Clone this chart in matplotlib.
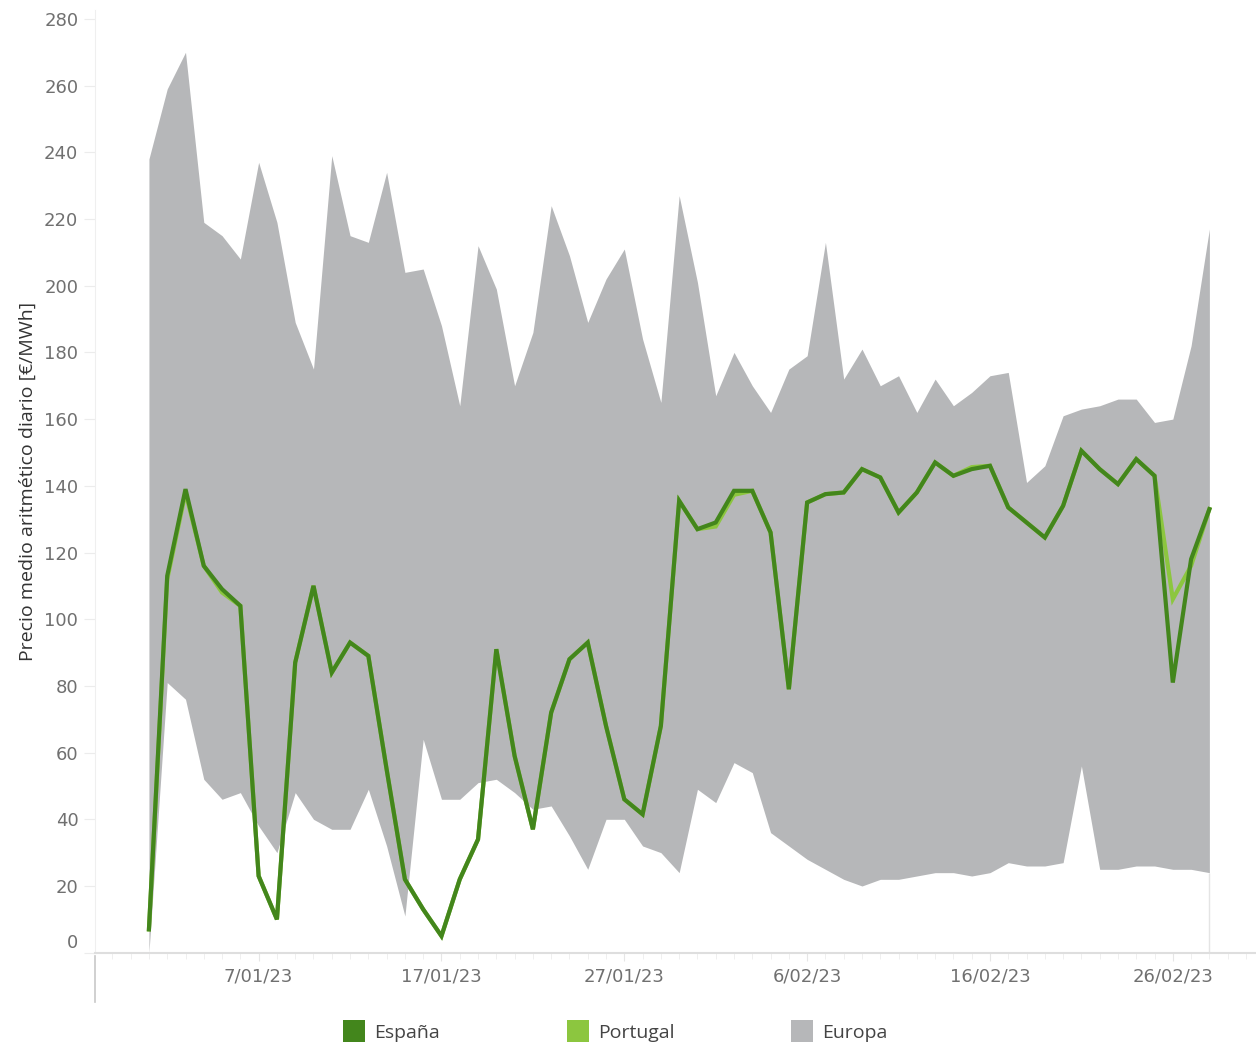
import datetime as dt
import matplotlib
matplotlib.use("Agg")
import matplotlib.pyplot as plt
import matplotlib.dates as mdates
from matplotlib.patches import Rectangle
from matplotlib.transforms import ScaledTranslation

plt.rcParams['font.family'] = ['Open Sans', 'DejaVu Sans']

# daily values, 1/01/23 .. 28/02/23
start = dt.date(2023, 1, 1)
n_days = 59

europa_max = [238, 259, 270, 219, 215, 208, 237, 219, 189, 175,
              239, 215, 213, 234, 204, 205, 188, 164, 212, 199,
              170, 186, 224, 209, 189, 202, 211, 184, 165, 227,
              201, 167, 180, 170, 162, 175, 179, 213, 172, 181,
              170, 173, 162, 172, 164, 168, 173, 174, 141, 146,
              161, 163, 164, 166, 166, 159, 160, 182, 217]
europa_min = [0, 81, 76, 52, 46, 48, 38, 30, 48, 40,
              37, 37, 49, 32, 11, 64, 46, 46, 51, 52,
              48, 43, 44, 35, 25, 40, 40, 32, 30, 24,
              49, 45, 57, 54, 36, 32, 28, 25, 22, 20,
              22, 22, 23, 24, 24, 23, 24, 27, 26, 26,
              27, 56, 25, 25, 26, 26, 25, 25, 24]
espana = [7, 113, 139, 116, 109, 104, 23, 10, 87, 110,
          84, 93, 89, 55, 22, 13, 5, 22, 34, 91,
          59, 37, 72, 88, 93, 68, 46, 41.5, 68, 135.5,
          127, 129, 138.5, 138.5, 126, 79, 135, 137.5, 138, 145,
          142.5, 132, 138, 147, 143, 145, 146, 133.5, 129, 124.5,
          134, 150.5, 145, 140.5, 148, 143, 81, 118, 133]
portugal = [7, 112, 138, 116, 108, 104, 23, 10, 87, 110,
            84, 93, 89, 55, 22, 13, 5, 22, 34, 91,
            59, 37, 72, 88, 93, 68, 46, 41.5, 68, 135.5,
            127, 127.8, 137.3, 138.5, 126, 79, 135, 137.5, 138, 145,
            142.5, 132, 138, 147, 143, 145.6, 146, 133.5, 129, 124.5,
            134, 150.5, 145, 140.5, 148, 143, 106, 116, 133]

tick_dates = [dt.date(2023, 1, 7), dt.date(2023, 1, 17), dt.date(2023, 1, 27),
              dt.date(2023, 2, 6), dt.date(2023, 2, 16), dt.date(2023, 2, 26)]
tick_labels = ["7/01/23", "17/01/23", "27/01/23", "6/02/23", "16/02/23", "26/02/23"]
y_ticks = list(range(0, 281, 20))

legend_labels = ["España", "Portugal", "Europa"]
legend_colors = ["#43861c", "#8cc63f", "#b6b7b9"]

dates = [start + dt.timedelta(days=i) for i in range(n_days)]

fig = plt.figure(figsize=(12.56, 10.42), dpi=100)
ax = fig.add_axes([95 / 1256, 89.3 / 1042, 1161 / 1256, 942.7 / 1042])

ax.fill_between(dates, europa_min, europa_max, color=legend_colors[2], lw=0, zorder=2)
# faint drop lines at the ends of the band
ax.vlines([dates[0], dates[-1]], 0, [europa_min[0], europa_min[-1]],
          color="#e4e4e4", lw=1, zorder=1)
ax.plot(dates, portugal, color=legend_colors[1], lw=3, zorder=3, solid_joinstyle="miter")
ax.plot(dates, espana, color=legend_colors[0], lw=3, zorder=4, solid_joinstyle="miter")

ax.set_xlim(mdates.date2num(start) - 2.95, mdates.date2num(start) + 60.55)
ax.set_ylim(0, 282.67)

tick_font = ['DejaVu Sans']
ax.set_xticks(tick_dates)
ax.set_xticklabels(tick_labels, family=tick_font)
ax.xaxis.set_minor_locator(mdates.DayLocator())
ax.tick_params(axis="x", which="major", length=6, color="#e6e6e6", pad=5,
               labelsize=13, labelcolor="#707070")
ax.tick_params(axis="x", which="minor", length=4, color="#ececec")

ax.set_yticks(y_ticks)
ax.set_yticklabels([str(v) for v in y_ticks], family=tick_font)
ax.tick_params(axis="y", length=8, color="#ececec", pad=4, labelsize=13, labelcolor="#707070")
# first label sits a bit above its tick, like the original
lbl0 = ax.get_yticklabels()[0]
lbl0.set_transform(lbl0.get_transform() + ScaledTranslation(0, 12 / 100, fig.dpi_scale_trans))

ax.set_ylabel("Precio medio aritmético diario [€/MWh]", fontsize=14, color="#333333")
ax.yaxis.set_label_coords(-0.0505, 0.5)

for s in ["top", "right"]:
    ax.spines[s].set_visible(False)
ax.spines["left"].set_color("#efefef")
ax.spines["bottom"].set_color("#dedede")
ax.spines["bottom"].set_linewidth(1.5)

# header separator under the axis
ax.plot([0, 0], [-0.004, -0.052], transform=ax.transAxes, color="#c8c8c8",
        lw=1.2, clip_on=False)

# legend
leg_x = [343, 567, 791]
for x, lab, col in zip(leg_x, legend_labels, legend_colors):
    fig.patches.append(Rectangle((x / 1256, 0), 22 / 1256, 22 / 1042,
                                 transform=fig.transFigure, color=col, lw=0))
    fig.text((x + 31) / 1256, 9 / 1042, lab, fontsize=14, color="#444444",
             va="center", ha="left")

fig.savefig("out.png", dpi=100)
